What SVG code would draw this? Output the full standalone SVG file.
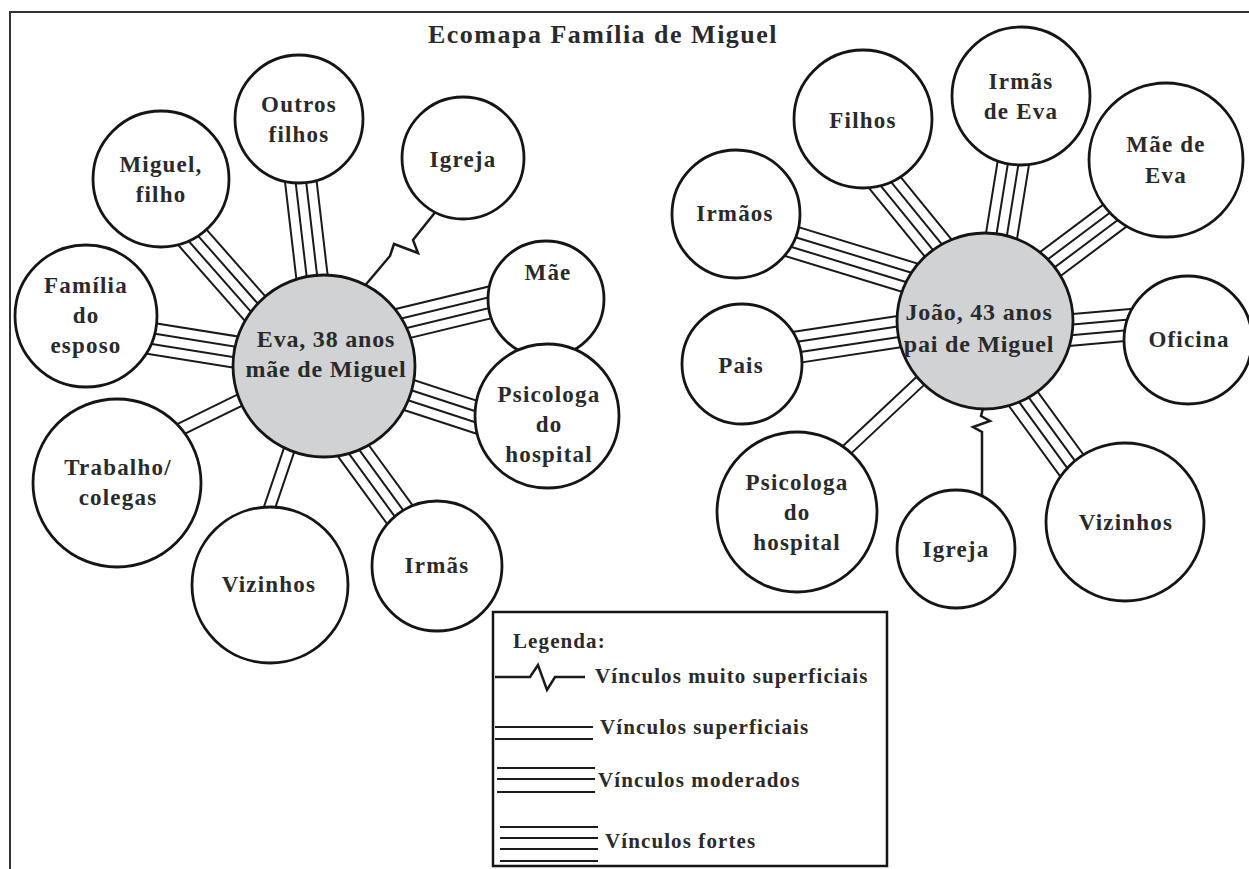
<svg xmlns="http://www.w3.org/2000/svg" width="1249" height="869" viewBox="0 0 1249 869">
<style>
.n{fill:#fff;stroke:#151515;stroke-width:2.8}
.c{fill:#d1d2d4;stroke:#151515;stroke-width:2.8}
.t{font-family:"Liberation Serif",Tinos,"Times New Roman",Times,"DejaVu Serif",serif;font-weight:700;font-size:23px;fill:#2a2a2a;text-anchor:middle;letter-spacing:1.2px}
.ct{font-size:24px;letter-spacing:0.8px}
.l{fill:none;stroke:#1a1a1a;stroke-width:2}
.z{fill:none;stroke:#1a1a1a;stroke-width:2.5;stroke-linejoin:miter}
.lg{font-family:"Liberation Serif",Tinos,"Times New Roman",Times,"DejaVu Serif",serif;font-weight:700;font-size:21px;fill:#2a2a2a;letter-spacing:1.1px}
</style>
<rect x="0" y="0" width="1249" height="869" fill="#fff"/>
<path d="M10,869 V12 H1249" fill="none" stroke="#333" stroke-width="2"/>
<text x="603" y="43" class="t" font-family="Liberation Serif, serif" style="font-size:26px;letter-spacing:1.5px">Ecomapa Família de Miguel</text>

<g id="connectors" class="l">
  <path transform="translate(298.1 158.2) rotate(83.33)" d="M0,-15.75h144.6M0,-5.25h144.6M0,5.25h144.6M0,15.75h144.6"/>
  <path transform="translate(176.5 219.3) rotate(48.63)" d="M0,-15.75h139.3M0,-5.25h139.3M0,5.25h139.3M0,15.75h139.3"/>
  <path transform="translate(129.3 335) rotate(9.12)" d="M0,-15.75h132M0,-5.25h132M0,5.25h132M0,15.75h132"/>
  <path transform="translate(160.5 439) rotate(-26.13)" d="M0,-6h109M0,6h109"/>
  <path transform="translate(263 526.7) rotate(-71.22)" d="M0,-5.5h102.8M0,5.5h102.8"/>
  <path transform="translate(412.7 532.2) rotate(-126.08)" d="M0,-15.75h123M0,-5.25h123M0,5.25h123M0,15.75h123"/>
  <path transform="translate(493.8 422.8) rotate(-161.88)" d="M0,-15.75h107.9M0,-5.25h107.9M0,5.25h107.9M0,15.75h107.9"/>
  <path transform="translate(520.3 295.1) rotate(166.41)" d="M0,-15.75h143.6M0,-5.25h143.6M0,5.25h143.6M0,15.75h143.6"/>
  <polyline class="z" points="437,210 413,240 418,253 394,244 390,256 362.5,288.5"/>
  <path transform="translate(766.1 233.7) rotate(17.02)" d="M0,-15.75h172.5M0,-5.25h172.5M0,5.25h172.5M0,15.75h172.5"/>
  <path transform="translate(870.2 164.6) rotate(50.83)" d="M0,-15.75h134.7M0,-5.25h134.7M0,5.25h134.7M0,15.75h134.7"/>
  <path transform="translate(1017 140.3) rotate(99.19)" d="M0,-15.75h118.9M0,-5.25h118.9M0,5.25h118.9M0,15.75h118.9"/>
  <path transform="translate(1133 202) rotate(143.13)" d="M0,-15.75h127M0,-5.25h127M0,5.25h127M0,15.75h127"/>
  <path transform="translate(1045.1 332.2) rotate(-5.01)" d="M0,-15.75h107.2M0,-5.25h107.2M0,5.25h107.2M0,15.75h107.2"/>
  <path transform="translate(773.3 350.8) rotate(-8.65)" d="M0,-15.75h153.1M0,-5.25h153.1M0,5.25h153.1M0,15.75h153.1"/>
  <path transform="translate(832.8 463.1) rotate(-43.19)" d="M0,-5.5h145M0,5.5h145"/>
  <path transform="translate(1084.8 483.3) rotate(-126.07)" d="M0,-15.75h130M0,-5.25h130M0,5.25h130M0,15.75h130"/>
  <polyline class="z" points="982,500 982,432 973,427 990,421 981,416 984,405"/>
</g>

<g id="eva"><circle class="c" cx="324" cy="366" r="91"/><text class="t ct" x="326" y="347">Eva, 38 anos</text><text class="t ct" x="326" y="377">mãe de Miguel</text></g>
<g id="outros-filhos"><circle class="n" cx="299" cy="119" r="64"/><text class="t" x="299" y="112">Outros</text><text class="t" x="299" y="142">filhos</text></g>
<g id="miguel-filho"><circle class="n" cx="161" cy="179" r="68"/><text class="t" x="161" y="172">Miguel,</text><text class="t" x="161" y="202">filho</text></g>
<g id="igreja-eva"><circle class="n" cx="463" cy="158" r="61"/><text class="t" x="463" y="167">Igreja</text></g>
<g id="familia-esposo"><circle class="n" cx="86" cy="316" r="71"/><text class="t" x="86" y="293">Família</text><text class="t" x="86" y="323">do</text><text class="t" x="86" y="353">esposo</text></g>
<g id="mae"><circle class="n" cx="546" cy="299" r="58"/><text class="t" x="548" y="280">Mãe</text></g>
<g id="psicologa-eva"><circle class="n" cx="547" cy="416" r="72"/><text class="t" x="549" y="402">Psicologa</text><text class="t" x="549" y="432">do</text><text class="t" x="549" y="462">hospital</text></g>
<g id="trabalho"><circle class="n" cx="117" cy="483" r="84"/><text class="t" x="118" y="475">Trabalho/</text><text class="t" x="118" y="505">colegas</text></g>
<g id="vizinhos-eva"><circle class="n" cx="270" cy="585" r="78"/><text class="t" x="269" y="592">Vizinhos</text></g>
<g id="irmas"><circle class="n" cx="437" cy="566" r="65"/><text class="t" x="437" y="573">Irmãs</text></g>

<g id="joao"><circle class="c" cx="985" cy="321" r="88"/><text class="t ct" x="979" y="320">João, 43 anos</text><text class="t ct" x="979" y="352">pai de Miguel</text></g>
<g id="irmaos"><circle class="n" cx="736" cy="214" r="64"/><text class="t" x="735" y="221">Irmãos</text></g>
<g id="filhos"><circle class="n" cx="863" cy="119" r="69"/><text class="t" x="863" y="128">Filhos</text></g>
<g id="irmas-eva"><circle class="n" cx="1021" cy="96" r="69"/><text class="t" x="1021" y="89">Irmãs</text><text class="t" x="1021" y="119">de Eva</text></g>
<g id="mae-eva"><circle class="n" cx="1166" cy="160" r="77"/><text class="t" x="1166" y="152">Mãe de</text><text class="t" x="1166" y="183">Eva</text></g>
<g id="oficina"><circle class="n" cx="1188" cy="340" r="64"/><text class="t" x="1189" y="347">Oficina</text></g>
<g id="pais"><circle class="n" cx="742" cy="364" r="60"/><text class="t" x="741" y="373">Pais</text></g>
<g id="psicologa-joao"><circle class="n" cx="797" cy="512" r="80"/><text class="t" x="797" y="490">Psicologa</text><text class="t" x="797" y="520">do</text><text class="t" x="797" y="550">hospital</text></g>
<g id="igreja-joao"><circle class="n" cx="956" cy="549" r="59"/><text class="t" x="956" y="557">Igreja</text></g>
<g id="vizinhos-joao"><circle class="n" cx="1125" cy="522" r="79"/><text class="t" x="1126" y="530">Vizinhos</text></g>

<g id="legenda">
  <rect x="493" y="612" width="394" height="254" fill="#fff" stroke="#151515" stroke-width="2.5"/>
  <text class="lg" x="513" y="648">Legenda:</text>
  <path class="z" d="M495,677 H530 L538,665 L547,690 L555,677 H585"/>
  <text class="lg" x="595" y="683">Vínculos muito superficiais</text>
  <path class="l" d="M495,727 H593 M495,739 H593"/>
  <text class="lg" x="600" y="734">Vínculos superficiais</text>
  <path class="l" d="M497,768 H595 M497,779 H595 M497,792 H595"/>
  <text class="lg" x="598" y="787">Vínculos moderados</text>
  <path class="l" d="M500,827 H598 M500,838 H598 M500,849 H598 M500,861 H598"/>
  <text class="lg" x="605" y="848">Vínculos fortes</text>
</g>
</svg>
